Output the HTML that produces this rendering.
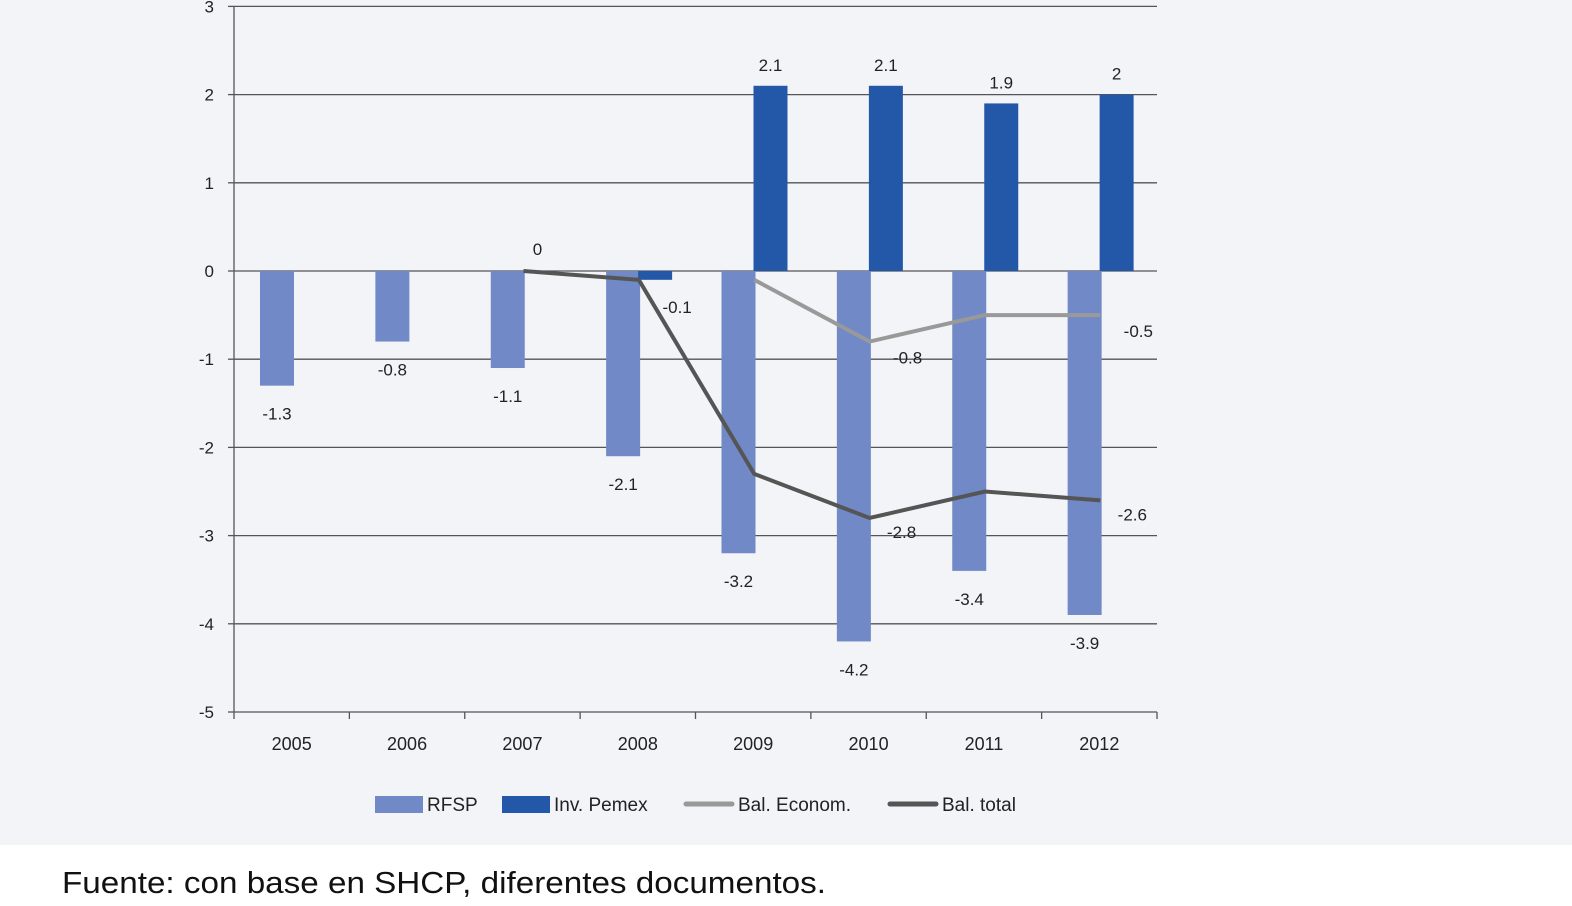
<!DOCTYPE html>
<html><head><meta charset="utf-8"><style>
body{margin:0;width:1572px;height:901px;background:#fff;overflow:hidden;font-family:"Liberation Sans",sans-serif}
</style></head><body>
<svg width="1572" height="901" id="svg">
<rect x="0" y="0" width="1572" height="845" fill="#f3f4f8"/>
<text x="62" y="893" font-size="31" fill="#111" textLength="764" lengthAdjust="spacingAndGlyphs">Fuente: con base en SHCP, diferentes documentos.</text>
</svg>
<script>
const categories=["2005","2006","2007","2008","2009","2010","2011","2012"];
const rfsp=[-1.3,-0.8,-1.1,-2.1,-3.2,-4.2,-3.4,-3.9];
const pemex=[null,null,null,-0.1,2.1,2.1,1.9,2];
const balEcon=[null,null,null,null,-0.1,-0.8,-0.5,-0.5];
const balTotal=[null,null,0,-0.1,-2.3,-2.8,-2.5,-2.6];
const yTicks=[3,2,1,0,-1,-2,-3,-4,-5];
const svg=document.getElementById('svg');const NS="http://www.w3.org/2000/svg";
const X0=234,X1=1157,CW=(X1-X0)/categories.length;
function y(v){return 271-v*88.2;}
function mk(t,a,txt){const e=document.createElementNS(NS,t);for(const k in a)e.setAttribute(k,a[k]);if(txt!=null)e.textContent=txt;svg.appendChild(e);return e;}
const F='"Liberation Sans",sans-serif';
yTicks.forEach(v=>{
 if(v!==-5){const g=mk('line',{x1:X0,x2:X1,y1:y(v),y2:y(v),stroke:'#555','stroke-width':1.3});
 
 }
 const t=mk('text',{x:214,y:y(v)+6,'font-size':17,'text-anchor':'end',fill:'#222','font-family':F},String(v));
 
 
 mk('line',{x1:228,x2:234,y1:y(v),y2:y(v),stroke:'#555','stroke-width':1.3});
});
mk('line',{x1:X0,x2:X0,y1:y(3),y2:y(-5),stroke:'#555','stroke-width':1.3});
mk('line',{x1:X0,x2:X1,y1:y(-5),y2:y(-5),stroke:'#555','stroke-width':1.3});
for(let i=0;i<=categories.length;i++)mk('line',{x1:X0+i*CW,x2:X0+i*CW,y1:y(-5),y2:y(-5)+7,stroke:'#555','stroke-width':1.3});
categories.forEach((c,i)=>{
 const t=mk('text',{x:X0+i*CW+CW/2,y:750,'font-size':18,'text-anchor':'middle',fill:'#222','font-family':F},c);
 
 
 const x0=X0+i*CW;
 const v=rfsp[i];
 const r=mk('rect',{x:x0+26,y:y(0),width:34,height:y(v)-y(0),fill:'#7189c6'});
 
 
 const l=mk('text',{x:x0+43,y:y(v)+34,'font-size':17,'text-anchor':'middle',fill:'#222','font-family':F},String(v));
 
 
 const p=pemex[i];
 if(p!=null){
  const top=Math.min(y(p),y(0)),h=Math.abs(y(p)-y(0));
  const b=mk('rect',{x:x0+58,y:top,width:34,height:h,fill:'#2358a8'});
  
  
  const pl=mk('text',{x:x0+75,y:p>=0?y(p)-15:y(p)+33,'font-size':17,'text-anchor':'middle',fill:'#222','font-family':F},String(p));
  if(p<0)pl.setAttribute('x',x0+97);
  
  
 }
});
function line(arr,col,name){
 let d='';arr.forEach((v,i)=>{if(v==null)return;d+=(d?'L':'M')+(X0+i*CW+CW/2+1)+','+y(v);});
 const p=mk('path',{d:d,fill:'none',stroke:col,'stroke-width':4});
 
 
}
line(balEcon,'#999','line-bal-econom');
line(balTotal,'#555','line-bal-total');
const econLabelIdx=[5,7],totalLabelIdx=[2,5,7];
econLabelIdx.forEach(i=>{const t=mk('text',{x:X0+i*CW+CW/2+39,y:y(balEcon[i])+22,'font-size':17,'text-anchor':'middle',fill:'#222','font-family':F},String(balEcon[i]));
 
 });
totalLabelIdx.forEach(i=>{const v=balTotal[i];const t=mk('text',{x:X0+i*CW+CW/2+(v===0?15:33),y:v===0?y(v)-16:y(v)+20,'font-size':17,'text-anchor':'middle',fill:'#222','font-family':F},String(v));
 
 });
const leg=[['rect','#7189c6','RFSP',375],['rect','#2358a8','Inv. Pemex',502],['line','#999','Bal. Econom.',686],['line','#555','Bal. total',890]];
leg.forEach(l=>{
 if(l[0]==='rect')mk('rect',{x:l[3],y:796,width:48,height:17,fill:l[1]});
 else mk('line',{x1:l[3],x2:l[3]+46,y1:804,y2:804,stroke:l[1],'stroke-width':5,'stroke-linecap':'round'});
 const t=mk('text',{x:l[3]+52,y:811,'font-size':19,fill:'#222','font-family':F},l[2]);
 
 
});
</script>
</body></html>
